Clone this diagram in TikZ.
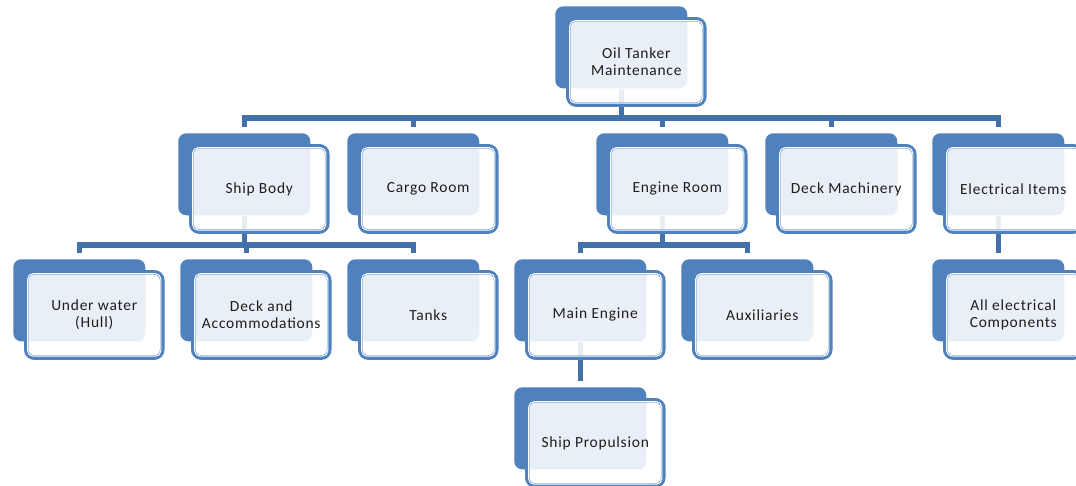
\documentclass[tikz,border=0pt]{standalone}
\usepackage{fontspec}
\newfontfamily\lbl{Carlito}[LetterSpace=5]
\pgfdeclarelayer{bg}
\pgfsetlayers{bg,main}
\definecolor{nblue}{HTML}{4F81BD}
\definecolor{cblue}{HTML}{4270A8}
\definecolor{txt}{HTML}{1E1E1E}
\tikzset{
  backbox/.style={fill=nblue, rounded corners=6pt, minimum width=99pt, minimum height=61.5pt, inner sep=0pt, anchor=north west},
  frontbox/.style={draw=nblue, line width=3.4pt, fill=white, fill opacity=0.88, text opacity=1, draw opacity=1,
    rounded corners=6pt, minimum width=102pt, minimum height=64pt, inner sep=0pt, anchor=north west,
    align=center, font=\lbl\fontsize{11.6}{12.9}\selectfont, text=txt},
  conn/.style={draw=cblue, line width=3.8pt, shorten >=4.5pt},
}
\begin{document}
\begin{tikzpicture}[x=0.75pt,y=-0.75pt]
\useasboundingbox (0,0) rectangle (1076,486);
% back shapes
\node[backbox] (root-b) at (555,6) {};
\node[backbox] (ship-b) at (178,133) {};
\node[backbox] (cargo-b) at (347,133) {};
\node[backbox] (eng-b) at (596,133) {};
\node[backbox] (deckm-b) at (765,133) {};
\node[backbox] (elec-b) at (932,133) {};
\node[backbox] (under-b) at (13,259) {};
\node[backbox] (deck-b) at (180,259) {};
\node[backbox] (tanks-b) at (347,259) {};
\node[backbox] (main-b) at (514,259) {};
\node[backbox] (aux-b) at (681,259) {};
\node[backbox] (all-b) at (932,259) {};
\node[backbox] (prop-b) at (514,387) {};
% front shapes
\node[frontbox] (root) at (566,17) {Oil Tanker\\Maintenance};
\node[frontbox] (ship) at (189,144) {Ship Body};
\node[frontbox] (cargo) at (358,144) {Cargo Room};
\node[frontbox] (eng) at (607,144) {Engine Room};
\node[frontbox] (deckm) at (776,144) {Deck Machinery};
\node[frontbox] (elec) at (943,144) {Electrical Items};
\node[frontbox] (under) at (24,270) {Under water\\(Hull)};
\node[frontbox] (deck) at (191,270) {Deck and\\Accommodations};
\node[frontbox] (tanks) at (358,270) {Tanks};
\node[frontbox] (main) at (525,270) {Main Engine};
\node[frontbox] (aux) at (692,270) {Auxiliaries};
\node[frontbox] (all) at (943,270) {All electrical\\Components};
\node[frontbox] (prop) at (525,398) {Ship Propulsion};
\foreach \n in {root,ship,cargo,eng,deckm,elec,under,deck,tanks,main,aux,all,prop}{
  \draw[white, line width=0.8pt, rounded corners=4pt]
    ([shift={(2.8pt,-2.8pt)}]\n.north west) rectangle ([shift={(-2.8pt,2.8pt)}]\n.south east);
}
% connectors
\begin{pgfonlayer}{bg}
\foreach \c in {ship,cargo,eng,deckm,elec}{
  \draw[conn] (root-b.south) -- (root-b.south |- 0,118) -| (\c-b.north);
}
\foreach \c in {under,deck,tanks}{
  \draw[conn] (ship-b.south) -- (ship-b.south |- 0,245) -| (\c-b.north);
}
\foreach \c in {main,aux}{
  \draw[conn] (eng-b.south) -- (eng-b.south |- 0,245) -| (\c-b.north);
}
\draw[conn] (elec-b.south) -- (all-b.north);
\draw[conn] (main-b.south) -- (prop-b.north);
\end{pgfonlayer}
\end{tikzpicture}
\end{document}
